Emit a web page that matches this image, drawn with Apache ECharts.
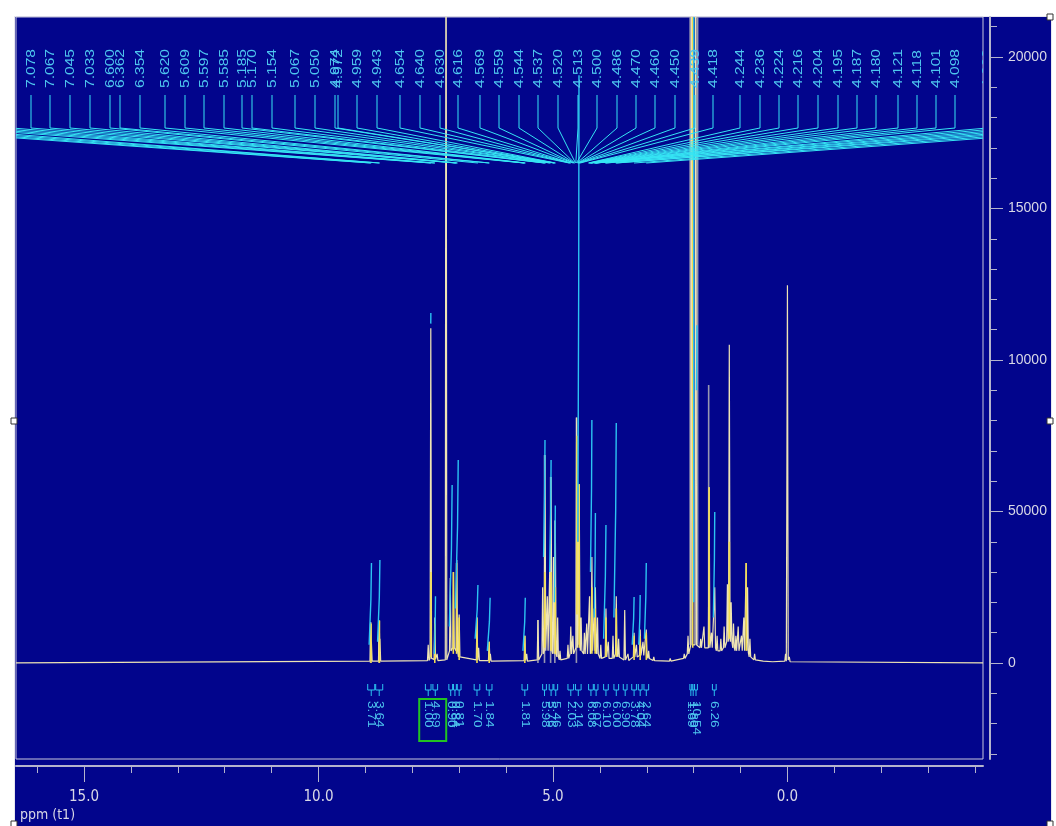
<!DOCTYPE html>
<html>
<head>
<meta charset="utf-8">
<script src="https://cdn.jsdelivr.net/npm/echarts@6/dist/echarts.min.js"></script>
<style>
  html, body { margin: 0; padding: 0; background: #ffffff; }
  #wrap { position: relative; width: 1056px; height: 826px; overflow: hidden; }
  #win { position: absolute; left: 14px; top: 16px; width: 1036px; height: 812px;
         background: #02058c; border-left: 1px solid #e6e6f0; border-top: 1px solid #e6e6f0; border-right: 1px solid #e6e6f0; }
  #c { position: absolute; left: 0; top: 0; width: 1056px; height: 826px; }
</style>
</head>
<body>
<div id="wrap"><div id="win"></div><div id="c"></div></div>
<script>
// ---- axis ranges (ppm runs right-to-left) ----
const PPM_MIN = -4.17, PPM_MAX = 16.45;
const Y_MIN = -3170, Y_MAX = 21320;

const xMajorTicks = [15, 10, 5, 0];
const xMinorTicks = [16, 14, 13, 12, 11, 9, 8, 7, 6, 4, 3, 2, 1, -1, -2, -3, -4];
const yMajorTicks = [0, 5000, 10000, 15000, 20000];
const yMajorLabels = ['0', '50000', '10000', '15000', '20000'];
const yMinorTicks = [-3000, -2000, -1000, 1000, 2000, 3000, 4000, 6000, 7000, 8000, 9000,
                     11000, 12000, 13000, 14000, 16000, 17000, 18000, 19000, 21000];

// ---- processed spectrum: [ppm, apex intensity, local baseline] ----
const mainPeaks = [
  [8.885, 1350, 60], [8.872, 700, 60], [8.705, 1400, 60], [8.690, 800, 60],
  [7.660, 600, 80], [7.605, 11050, 150], [7.520, 1500, 120], [7.470, 300, 80],
  [7.280, 30000, 100], [7.190, 2800, 400], [7.120, 3000, 500], [7.050, 3400, 400], [7.000, 1600, 200],
  [6.620, 1500, 100], [6.585, 500, 80], [6.360, 700, 80], [6.335, 300, 60],
  [5.600, 900, 80], [5.560, 300, 60],
  [5.320, 1420, 100], [5.220, 2500, 300], [5.170, 6860, 400], [5.120, 2200, 400], [5.070, 3000, 400],
  [5.040, 6140, 400], [4.990, 3500, 300], [4.950, 4700, 300], [4.900, 1500, 200], [4.850, 400, 100],
  [4.680, 600, 150], [4.620, 1200, 300], [4.575, 900, 300], [4.495, 8100, 500], [4.460, 4000, 600],
  [4.440, 5900, 600], [4.400, 1500, 400], [4.330, 1000, 300], [4.280, 1300, 300], [4.220, 2200, 300],
  [4.170, 3500, 400], [4.120, 1800, 400], [4.095, 2500, 400], [4.050, 1500, 300], [3.980, 600, 150],
  [3.870, 1800, 200], [3.820, 700, 150], [3.720, 900, 150], [3.650, 2200, 300], [3.600, 800, 200],
  [3.470, 1750, 100], [3.400, 300, 80], [3.270, 1000, 200], [3.220, 600, 200], [3.140, 1100, 250],
  [3.080, 700, 250], [3.010, 1100, 250], [2.960, 400, 150], [2.850, 200, 80], [2.500, 150, 60],
  [2.200, 300, 150], [2.120, 900, 300], [2.045, 30000, 600], [1.955, 30000, 600], [1.850, 800, 500],
  [1.780, 1200, 500], [1.670, 5800, 500], [1.620, 1000, 500], [1.550, 2500, 500], [1.500, 900, 400],
  [1.420, 800, 400], [1.350, 1200, 500], [1.280, 2600, 700], [1.240, 10500, 800], [1.200, 2000, 700],
  [1.150, 1300, 500], [1.100, 900, 400], [1.050, 1200, 400], [0.980, 900, 400], [0.930, 1500, 400],
  [0.880, 3300, 400], [0.850, 2500, 350], [0.800, 800, 200], [0.700, 300, 100], [0.500, 120, 60],
  [0.300, 80, 40], [0.040, 300, 60], [0.000, 12470, 100], [-0.040, 200, 40]
];

// overlaid traces drawn as segments: [ppm, from, to]
const yellowSticks = [
  [8.880, 0, 1300], [8.700, 0, 1400], [7.600, 200, 3000], [7.520, 0, 1300],
  [7.125, 300, 3000], [7.055, 300, 3300], [7.000, 100, 1500], [6.620, 0, 1500], [6.360, 0, 700],
  [5.600, 0, 900], [5.175, 500, 3000], [5.040, 400, 3000], [4.950, 300, 2500],
  [4.490, 1600, 7500], [4.440, 500, 5900], [4.170, 300, 2500], [4.100, 300, 1800],
  [3.870, 200, 1500], [3.650, 200, 1800], [3.270, 100, 900], [3.140, 100, 900], [3.010, 100, 1000],
  [2.020, 500, 30000], [1.670, 600, 5800], [1.240, 800, 4000], [0.880, 400, 3300]
];
const graySticks = [
  [8.890, 0, 1300], [8.710, 0, 1400], [5.320, 0, 1420], [5.180, 0, 6860], [5.050, 0, 6140],
  [4.960, 0, 4700], [4.500, 0, 8100], [2.075, 600, 30000], [1.915, 600, 30000], [1.680, 500, 9170]
];
// integral curves: [ppm start, value start, ppm end, value end]
const cyanRamps = [
  [8.920, 600, 8.870, 3300], [8.740, 700, 8.690, 3400],
  [7.606, 11200, 7.604, 11550], [7.530, 300, 7.505, 2200],
  [7.210, 1200, 7.150, 5870], [7.080, 1800, 7.020, 6700],
  [6.660, 800, 6.600, 2570], [6.400, 400, 6.340, 2150], [5.640, 400, 5.590, 2150],
  [5.200, 3500, 5.170, 7360], [5.070, 3000, 5.040, 6700], [4.970, 2000, 4.950, 5200],
  [4.470, 4000, 4.445, 19400], [4.200, 3000, 4.170, 8020], [4.120, 1500, 4.095, 4950],
  [3.920, 800, 3.870, 4550], [3.700, 1500, 3.650, 7920],
  [3.310, 600, 3.270, 2180], [3.170, 600, 3.140, 2240], [3.050, 800, 3.010, 3300],
  [2.000, 2000, 1.995, 30000], [1.940, 9000, 1.930, 11150], [1.580, 1500, 1.550, 4980]
];

// ---- peak picking labels ----
const fanLabels = [
  '8.891', '8.876', '8.707', '8.692', '7.612', '7.600', '7.524', '7.516',
  '7.078', '7.067', '7.045', '7.033', '6.600', '6.362', '6.354', '5.620', '5.609', '5.597', '5.585',
  '5.185', '5.170', '5.154', '5.067', '5.050', '4.974', '4.972', '4.959', '4.943', '4.654', '4.640',
  '4.630', '4.616', '4.569', '4.559', '4.544', '4.537', '4.520', '4.513', '4.500', '4.486', '4.470',
  '4.460', '4.450', '4.439', '4.418', '4.244', '4.236', '4.224', '4.216', '4.204', '4.195', '4.187',
  '4.180', '4.121', '4.118', '4.101', '4.098',
  '4.090', '4.084', '3.886', '3.872', '3.662', '3.650', '3.271', '3.012'
];
// horizontal slot of every label, px
const fanSlots = [
  -124.5, -105, -85.5, -66, -46.5, -27, -7.5, 12,
  31, 50, 70, 90, 110, 120, 140, 165, 185, 204, 224,
  242, 252, 272, 295, 315, 335, 338, 357, 377, 400, 420,
  440, 458, 480, 499, 519, 538, 558, 578, 597, 617, 636,
  655, 675, 695, 713, 740, 760, 779, 798, 818, 838, 857,
  876, 898, 917, 936, 955,
  987, 1006.5, 1026, 1045.5, 1065, 1084.5, 1104, 1123.5
];
const FAN = { textBase: 88, tickTop: 95, knee: 128, anchor: 163 };

// ---- integrals: [ppm from, ppm to, value, reference flag] ----
const integrals = [
  [8.95, 8.80, '3.71', 0], [8.78, 8.63, '3.64', 0],
  [7.72, 7.60, '1.00', 1], [7.56, 7.46, '4.69', 0],
  [7.22, 7.14, '0.90', 0], [7.12, 7.06, '0.84', 0], [7.04, 6.96, '0.81', 0],
  [6.68, 6.56, '1.70', 0], [6.42, 6.30, '1.84', 0], [5.66, 5.54, '1.81', 0],
  [5.22, 5.14, '5.98', 0], [5.08, 5.00, '5.76', 0], [4.98, 4.90, '5.46', 0],
  [4.68, 4.56, '2.03', 0], [4.52, 4.40, '2.14', 0],
  [4.24, 4.14, '6.08', 0], [4.12, 4.04, '6.07', 0], [3.92, 3.82, '6.10', 0],
  [3.70, 3.60, '6.00', 0], [3.50, 3.42, '6.90', 0],
  [3.32, 3.22, '3.78', 0], [3.18, 3.10, '4.04', 0], [3.06, 2.96, '2.64', 0],
  [2.08, 2.04, '1.69', 0], [2.03, 1.99, '1.80', 0], [1.98, 1.92, '10.54', 0],
  [1.60, 1.52, '6.26', 0]
];
const INTEG = { top: 684, bar: 690, stem: 696, text: 701 };

// ---- colours ----
const C = {
  trace: '#eee4b4', yellow: '#f2dc52', gray: '#9898b0', cyan: '#2cc4f2',
  fan: '#36e6f4', labelText: '#4ec6ee', axis: '#b4b4cc', axisText: '#d8d8e6', green: '#22c422'
};

const HALF = 0.016;
function buildTrace() {
  const pts = [[PPM_MAX, 0]];
  mainPeaks.slice().sort((a, b) => b[0] - a[0]).forEach(([p, h, b]) => {
    pts.push([p + HALF, b], [p, h], [p - HALF, b]);
  });
  pts.push([PPM_MIN, 0]);
  return pts;
}

function clipRect(params) {
  const cs = params.coordSys;
  return { type: 'rect', shape: { x: cs.x, y: cs.y, width: cs.width, height: cs.height } };
}

function stickSeries(data, color, width) {
  return {
    type: 'custom', silent: true, data: data, z: 4,
    renderItem(params, api) {
      const a = api.coord([api.value(0), api.value(1)]);
      const b = api.coord([api.value(0), api.value(2)]);
      return {
        type: 'line', clipPath: clipRect(params),
        shape: { x1: a[0], y1: a[1], x2: b[0], y2: b[1] },
        style: { stroke: color, lineWidth: width }
      };
    }
  };
}

const chart = echarts.init(document.getElementById('c'), null, { renderer: 'canvas' });

const narrowFont = "'Liberation Sans Narrow', 'DejaVu Sans Condensed', 'Liberation Sans', sans-serif";

const option = {
  backgroundColor: 'transparent',
  animation: false,
  grid: {
    left: 16, top: 17, width: 967, height: 742,
    show: true, backgroundColor: 'transparent', borderColor: '#c8c8dc', borderWidth: 1
  },
  xAxis: [
    {
      type: 'value', min: PPM_MIN, max: PPM_MAX, inverse: true, position: 'bottom', offset: 7,
      axisLine: { onZero: false, lineStyle: { color: C.axis, width: 2 } },
      axisTick: { customValues: xMajorTicks, length: 16, lineStyle: { color: C.axis } },
      axisLabel: {
        customValues: xMajorTicks, margin: 24, color: C.axisText, fontSize: 15,
        fontFamily: narrowFont, formatter: v => v.toFixed(1)
      },
      splitLine: { show: false }
    },
    {
      type: 'value', min: PPM_MIN, max: PPM_MAX, inverse: true, position: 'bottom', offset: 7,
      axisLine: { show: false, onZero: false },
      axisTick: { customValues: xMinorTicks, length: 7, lineStyle: { color: C.axis } },
      axisLabel: { show: false }, splitLine: { show: false }
    }
  ],
  yAxis: [
    {
      type: 'value', min: Y_MIN, max: Y_MAX, position: 'right', offset: 7,
      axisLine: { show: true, onZero: false, lineStyle: { color: C.axis, width: 2 } },
      axisTick: { show: true, inside: false, customValues: yMajorTicks, length: 13, lineStyle: { color: C.axis } },
      axisLabel: {
        customValues: yMajorTicks, margin: 18, color: C.axisText, fontSize: 14,
        fontFamily: "'Liberation Sans', Arial, sans-serif",
        formatter: v => yMajorLabels[yMajorTicks.indexOf(v)]
      },
      splitLine: { show: false }
    },
    {
      type: 'value', min: Y_MIN, max: Y_MAX, position: 'right', offset: 7,
      axisLine: { show: false, onZero: false },
      axisTick: { show: true, inside: false, customValues: yMinorTicks, length: 7, lineStyle: { color: C.axis } },
      axisLabel: { show: false }, splitLine: { show: false }
    }
  ],
  series: [
    stickSeries(graySticks, C.gray, 1.6),
    {
      type: 'line', data: buildTrace(), showSymbol: false, symbol: 'none', clip: true, z: 5,
      lineStyle: { color: C.trace, width: 1.2 }, silent: true
    },
    Object.assign(stickSeries(yellowSticks, C.yellow, 1.6), { z: 6 }),
    {
      type: 'custom', silent: true, data: cyanRamps, z: 7,
      renderItem(params, api) {
        const a = api.coord([api.value(0), api.value(1)]);
        const b = api.coord([api.value(2), api.value(3)]);
        const mid = [b[0] - (b[0] - a[0]) * 0.25, a[1] + (b[1] - a[1]) * 0.55];
        return {
          type: 'polyline', clipPath: clipRect(params),
          shape: { points: [a, mid, b] },
          style: { stroke: C.cyan, lineWidth: 1.4, fill: null }
        };
      }
    },
    {
      // peak labels with their leader lines
      type: 'custom', silent: true, z: 8,
      data: fanLabels.map((t, i) => [parseFloat(t), fanSlots[i]]),
      renderItem(params, api) {
        const i = params.dataIndex;
        const slot = api.value(1);
        const peakX = api.coord([api.value(0), 0])[0];
        return {
          type: 'group', clipPath: clipRect(params),
          children: [
            {
              type: 'text', x: slot + 0.5, y: FAN.textBase, rotation: Math.PI / 2, scaleX: 1.3,
              style: { text: fanLabels[i], fill: C.labelText, font: "12px 'Liberation Sans', Arial, sans-serif",
                       align: 'left', verticalAlign: 'middle' }
            },
            {
              type: 'polyline',
              shape: { points: [[slot, FAN.tickTop], [slot, FAN.knee], [peakX, FAN.anchor]] },
              style: { stroke: C.fan, lineWidth: 1, fill: null }
            }
          ]
        };
      }
    },
    {
      // integral brackets and values
      type: 'custom', silent: true, z: 8, data: integrals.map(r => [r[0], r[1], r[3]]),
      renderItem(params, api) {
        const i = params.dataIndex;
        const x1 = api.coord([api.value(0), 0])[0];
        const x2 = api.coord([api.value(1), 0])[0];
        const cx = (x1 + x2) / 2;
        const kids = [
          {
            type: 'polyline',
            shape: { points: [[x1, INTEG.top], [x1, INTEG.bar], [x2, INTEG.bar], [x2, INTEG.top]] },
            style: { stroke: C.cyan, lineWidth: 1, fill: null }
          },
          {
            type: 'line', shape: { x1: cx, y1: INTEG.bar, x2: cx, y2: INTEG.stem },
            style: { stroke: C.cyan, lineWidth: 1 }
          },
          {
            type: 'text', x: cx, y: INTEG.text, rotation: -Math.PI / 2, scaleX: 1.3,
            style: { text: integrals[i][2], fill: C.labelText, font: "10.5px 'Liberation Sans', Arial, sans-serif",
                     align: 'left', verticalAlign: 'middle' }
          }
        ];
        if (api.value(2) === 1) {
          kids.push({
            type: 'rect', shape: { x: cx - 9, y: 699, width: 27, height: 42 },
            style: { stroke: C.green, lineWidth: 2, fill: null }
          });
        }
        return { type: 'group', children: kids };
      }
    }
  ],
  graphic: [
    { type: 'text', left: 20, top: 808, style: { text: 'ppm (t1)', fill: C.axisText, font: "14px " + narrowFont } },
    { type: 'rect', shape: { x: 11, y: 418, width: 6, height: 6 }, style: { fill: '#ffffff', stroke: '#333', lineWidth: 1 } },
    { type: 'rect', shape: { x: 1047, y: 418, width: 6, height: 6 }, style: { fill: '#ffffff', stroke: '#333', lineWidth: 1 } },
    { type: 'rect', shape: { x: 1047, y: 14, width: 6, height: 6 }, style: { fill: '#ffffff', stroke: '#333', lineWidth: 1 } },
    { type: 'rect', shape: { x: 11, y: 821, width: 6, height: 6 }, style: { fill: '#ffffff', stroke: '#333', lineWidth: 1 } },
    { type: 'rect', shape: { x: 1047, y: 821, width: 6, height: 6 }, style: { fill: '#ffffff', stroke: '#333', lineWidth: 1 } }
  ]
};

chart.setOption(option);
</script>
</body>
</html>
